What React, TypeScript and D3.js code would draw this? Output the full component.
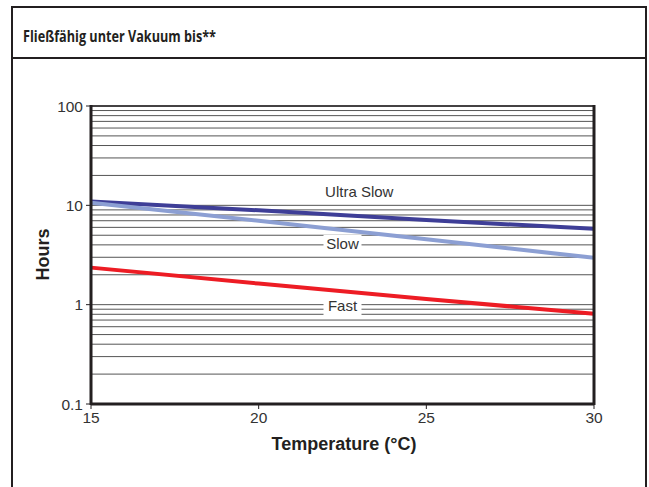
import React from "react";
import * as d3 from "d3";

const temps = [15, 20, 25, 30];
const ultraSlow = [10.9, 8.9, 7.1, 5.8];
const slow = [10.6, 7.0, 4.55, 2.96];
const fast = [2.36, 1.63, 1.14, 0.81];
const xTicks = [15, 20, 25, 30];
const yTicks = [0.1, 1, 10, 100];
const yTickLabels = ["0.1", "1", "10", "100"];

const series = [
  { name: "Ultra Slow", values: ultraSlow, color: "#3e3e97", label: { t: 23.0, v: 13.6 } },
  { name: "Slow", values: slow, color: "#8c9fd3", label: { t: 22.5, v: 4.1 } },
  { name: "Fast", values: fast, color: "#ed1c24", label: { t: 22.5, v: 0.96 } },
];

const W = 649;
const H = 487;
const plot = { left: 91, right: 594, top: 106, bottom: 404 };

const App = () => {
  const x = d3.scaleLinear().domain([15, 30]).range([plot.left, plot.right]);
  const y = d3.scaleLog().domain([0.1, 100]).range([plot.bottom, plot.top]);

  // minor grid at every log step 1..9 per decade
  const grid: number[] = [];
  for (let d = 0.1; d < 100; d *= 10) {
    for (let k = 1; k <= 9; k++) grid.push(+(d * k).toPrecision(3));
  }
  grid.push(100);

  const line = d3
    .line<number>()
    .x((_, i) => x(temps[i]))
    .y((v) => y(v));

  const font = "'Liberation Sans', Arial, sans-serif";

  return (
    <svg
      width={W}
      height={H}
      style={{ position: "absolute", left: 0, top: 0, background: "#fff" }}
    >
      {/* outer frame */}
      <rect x={12} y={7} width={634} height={500} fill="none" stroke="#231f20" strokeWidth={2} />
      <line x1={12} x2={646} y1={58} y2={58} stroke="#231f20" strokeWidth={2} />
      <text
        x={23}
        y={42}
        fontFamily="'Open Sans', 'DejaVu Sans', sans-serif"
        fontWeight="bold"
        fontSize={16}
        textLength={193}
        lengthAdjust="spacingAndGlyphs"
        fill="#231f20"
      >
        Fließfähig unter Vakuum bis**
      </text>

      {/* grid */}
      {grid.map((g, i) => (
        <line
          key={i}
          x1={plot.left}
          x2={plot.right}
          y1={y(g)}
          y2={y(g)}
          stroke="#555"
          strokeWidth={1}
        />
      ))}

      {/* series */}
      {series.map((s) => (
        <path
          key={s.name}
          d={line(s.values) || ""}
          fill="none"
          stroke={s.color}
          strokeWidth={4}
        />
      ))}

      {/* series labels with white knockout */}
      {series.map((s) => {
        const cx = x(s.label.t);
        const cy = y(s.label.v);
        const w = s.name.length * 8 + 6;
        return (
          <g key={s.name + "-lbl"}>
            <rect x={cx - w / 2} y={cy - 9} width={w} height={18} fill="#fff" />
            <text
              x={cx}
              y={cy + 5}
              textAnchor="middle"
              fontFamily={font}
              fontSize={15}
              fill="#333"
            >
              {s.name}
            </text>
          </g>
        );
      })}

      {/* axes frame */}
      <line x1={plot.left} x2={plot.left} y1={plot.top - 1} y2={plot.bottom + 1} stroke="#231f20" strokeWidth={3} />
      <line x1={plot.right} x2={plot.right} y1={plot.top - 1} y2={plot.bottom + 1} stroke="#231f20" strokeWidth={3} />
      <line x1={plot.left} x2={plot.right} y1={plot.bottom} y2={plot.bottom} stroke="#231f20" strokeWidth={3} />
      <line x1={plot.left} x2={plot.right} y1={plot.top} y2={plot.top} stroke="#231f20" strokeWidth={1.5} />

      {/* y ticks */}
      {yTicks.map((t, i) => (
        <g key={"y" + t}>
          <line x1={plot.left - 5} x2={plot.left} y1={y(t)} y2={y(t)} stroke="#231f20" strokeWidth={1} />
          <text
            x={plot.left - 8}
            y={y(t) + 5.5}
            textAnchor="end"
            fontFamily={font}
            fontSize={15.5}
            fill="#333"
          >
            {yTickLabels[i]}
          </text>
        </g>
      ))}

      {/* x ticks */}
      {xTicks.map((t) => (
        <g key={"x" + t}>
          <line x1={x(t)} x2={x(t)} y1={plot.bottom} y2={plot.bottom + 5} stroke="#231f20" strokeWidth={1} />
          <text
            x={x(t)}
            y={plot.bottom + 19}
            textAnchor="middle"
            fontFamily={font}
            fontSize={15.5}
            fill="#333"
          >
            {t}
          </text>
        </g>
      ))}

      {/* axis titles */}
      <text
        x={344}
        y={450}
        textAnchor="middle"
        fontFamily={font}
        fontWeight="bold"
        fontSize={18}
        fill="#231f20"
      >
        Temperature (°C)
      </text>
      <text
        transform={`translate(49, ${y(3.2)}) rotate(-90)`}
        textAnchor="middle"
        fontFamily={font}
        fontWeight="bold"
        fontSize={18}
        fill="#231f20"
      >
        Hours
      </text>
    </svg>
  );
};

export default App;
